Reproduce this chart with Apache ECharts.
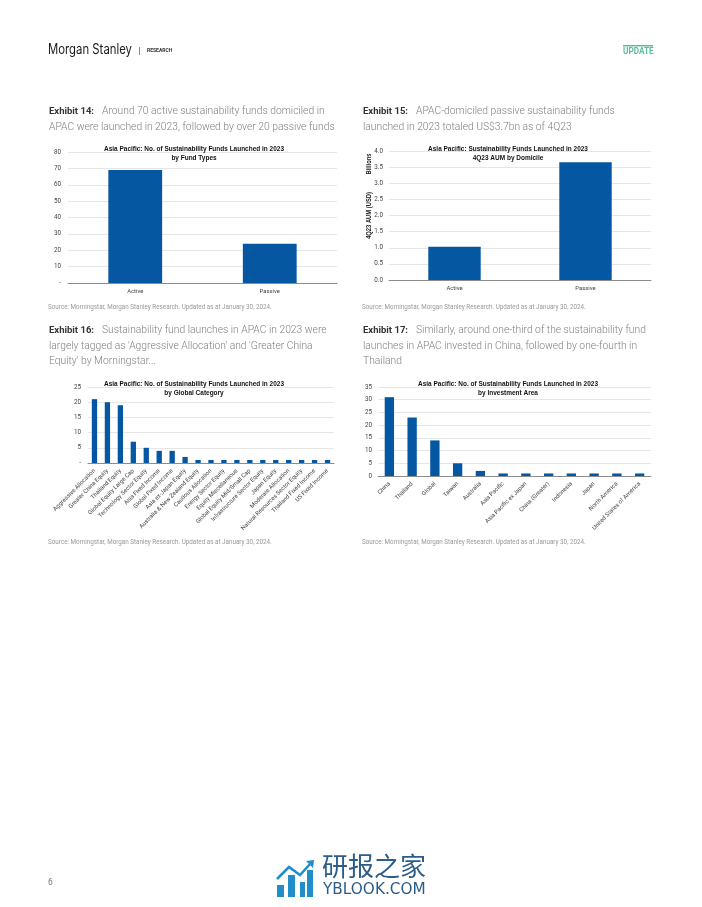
<!DOCTYPE html>
<html>
<head>
<meta charset="utf-8">
<style>html,body{margin:0;padding:0;background:#fff}#main{width:702px;height:907px}</style>
<script src="https://cdn.jsdelivr.net/npm/echarts@6/dist/echarts.min.js"></script>
</head>
<body>
<div id="main"></div>
<script>
var typeCats = ['Active', 'Passive'];
var typeVals = [69, 24];
var domicileCats = ['Active', 'Passive'];
var domicileVals = [1.03, 3.65];
var globalCats = ['Aggressive Allocation', 'Greater China Equity', 'Thailand Equity', 'Global Equity Large Cap', 'Technology Sector Equity', 'Asia Fixed Income', 'Global Fixed Income', 'Asia ex-Japan Equity', 'Australia & New Zealand Equity', 'Cautious Allocation', 'Energy Sector Equity', 'Equity Miscellaneous', 'Global Equity Mid/Small Cap', 'Infrastructure Sector Equity', 'Japan Equity', 'Moderate Allocation', 'Natural Resources Sector Equity', 'Thailand Fixed Income', 'US Fixed Income'];
var globalVals = [21, 20, 19, 7, 5, 4, 4, 2, 1, 1, 1, 1, 1, 1, 1, 1, 1, 1, 1];
var areaCats = ['China', 'Thailand', 'Global', 'Taiwan', 'Australia', 'Asia Pacific', 'Asia Pacific ex Japan', 'China (Greater)', 'Indonesia', 'Japan', 'North America', 'United States of America'];
var areaVals = [31, 23, 14, 5, 2, 1, 1, 1, 1, 1, 1, 1];

var blue = '#0457a0';
var sourceText = 'Source: Morningstar, Morgan Stanley Research. Updated as at January 30, 2024.';
var panels = [
    { cats: typeCats, vals: typeVals, max: 80, step: 10, dash: true, left: 68, right: 337, top: 152, bottom: 283, barWidth: '40%', rotate: 0, yMargin: 7, xMargin: 6,
      title: 'Asia Pacific: No. of Sustainability Funds Launched in 2023\nby Fund Types', titleX: 194, titleY: 144 },
    { cats: domicileCats, vals: domicileVals, max: 4, step: 0.5, dash: false, left: 389, right: 651, top: 151, bottom: 280, barWidth: '40%', rotate: 0, yMargin: 6, xMargin: 6,
      title: 'Asia Pacific: Sustainability Funds Launched in 2023\n4Q23 AUM by Domicile', titleX: 508, titleY: 144 },
    { cats: globalCats, vals: globalVals, max: 25, step: 5, dash: true, left: 88, right: 334, top: 387, bottom: 463, barWidth: '41%', rotate: 45, yMargin: 7, xMargin: 7,
      title: 'Asia Pacific: No. of Sustainability Funds Launched in 2023\nby Global Category', titleX: 194, titleY: 379 },
    { cats: areaCats, vals: areaVals, max: 35, step: 5, dash: false, left: 378, right: 651, top: 387, bottom: 476, barWidth: '41%', rotate: 45, yMargin: 6, xMargin: 7,
      title: 'Asia Pacific: No. of Sustainability Funds Launched in 2023\nby Investment Area', titleX: 508, titleY: 379 }
];

var grids = [], xAxes = [], yAxes = [], series = [], titles = [];
panels.forEach(function (p, i) {
    grids.push({ left: p.left, top: p.top, width: p.right - p.left, height: p.bottom - p.top });
    xAxes.push({
        type: 'category', gridIndex: i, data: p.cats,
        axisTick: { show: false },
        axisLine: { lineStyle: { color: '#8c8c8c', width: 1 } },
        axisLabel: { interval: 0, rotate: p.rotate, fontFamily: 'Roboto', fontSize: 5.9, color: '#444', margin: p.xMargin }
    });
    yAxes.push({
        type: 'value', gridIndex: i, min: 0, max: p.max, interval: p.step,
        axisLine: { show: false }, axisTick: { show: false },
        splitLine: { lineStyle: { color: '#e6e6e6', width: 1 } },
        axisLabel: {
            fontFamily: 'Roboto', fontSize: 6.3, color: '#444', margin: p.yMargin,
            formatter: function (v) {
                if (p.dash && v === 0) return '-';
                return p.step < 1 ? v.toFixed(1) : String(v);
            }
        }
    });
    series.push({
        type: 'bar', xAxisIndex: i, yAxisIndex: i, data: p.vals, barWidth: p.barWidth,
        itemStyle: { color: blue }, silent: true
    });
    titles.push({
        type: 'text', x: p.titleX, y: p.titleY, scaleX: 0.81, z: 20, silent: true,
        style: { text: p.title, align: 'center', fontFamily: 'Liberation Sans', fontWeight: 'bold', fontSize: 8, lineHeight: 9.5, fill: '#111' }
    });
});

function txt(x, y, text, size, color, weight, family) {
    return { type: 'text', x: x, y: y, silent: true, style: { text: text, fontSize: size, fill: color, fontWeight: weight || 'normal', fontFamily: family || 'Roboto' } };
}
function heading(x, y, label, lines) {
    var out = [txt(x, y, label, 9.5, '#333', 'bold')];
    lines.forEach(function (l, n) {
        out.push(txt(n === 0 ? x + 53 : x, y + n * 15.6, l, 10.3, '#808080', '300'));
    });
    return out;
}
function sideLabel(y, text) {
    return { type: 'text', x: 369, y: y, rotation: Math.PI / 2, scaleX: 0.88, silent: true, style: { text: text, fontSize: 6.6, fontWeight: 'bold', fontFamily: 'Liberation Sans', fill: '#222', align: 'center', verticalAlign: 'middle' } };
}
function box(x, y, w, h, fill) {
    return { type: 'rect', x: x, y: y, silent: true, shape: { width: w, height: h }, style: { fill: fill } };
}

var logoBlue = '#1f8ec9';
var graphics = [
    { type: 'text', x: 48, y: 43, scaleX: 0.81, silent: true, style: { text: 'Morgan Stanley', fontSize: 14, fill: '#1a1a1a', fontFamily: 'Inter' } },
    box(139, 47, 1, 8, '#888'),
    txt(147, 48.5, 'RESEARCH', 5, '#333', 'bold'),
    box(623, 45, 30, 1.5, '#5bbd9e'),
    txt(623, 47.5, 'UPDATE', 8.2, '#5bbd9e', 'bold'),
    txt(48, 304, sourceText, 6.3, '#999'),
    txt(362, 304, sourceText, 6.3, '#999'),
    txt(48, 539, sourceText, 6.3, '#999'),
    txt(362, 539, sourceText, 6.3, '#999'),
    txt(48, 878, '6', 8.5, '#777'),
    txt(322, 853, '研报之家', 26, '#2b5c8a', 'normal', 'Noto Sans CJK SC'),
    txt(323, 883, 'YBLOOK.COM', 15.3, '#2b5c8a', 'normal', 'DejaVu Sans'),
    box(277, 885, 7, 12, logoBlue),
    box(288, 875, 7, 22, logoBlue),
    box(300, 882, 5, 15, logoBlue),
    box(307, 870, 6, 27, logoBlue),
    { type: 'polyline', silent: true, shape: { points: [[277, 879], [289, 867], [300, 875], [310, 864]] }, style: { stroke: logoBlue, lineWidth: 2.5, fill: null } },
    { type: 'polygon', silent: true, shape: { points: [[306, 861], [314, 860], [313, 868]] }, style: { fill: logoBlue } },
    sideLabel(164, 'Billions'),
    sideLabel(215.5, '4Q23 AUM (USD)')
];
graphics = graphics.concat(titles)
    .concat(heading(49, 106.5, 'Exhibit 14:', ['Around 70 active sustainability funds domiciled in', 'APAC were launched in 2023, followed by over 20 passive funds']))
    .concat(heading(363, 106.5, 'Exhibit 15:', ['APAC-domiciled passive sustainability funds', 'launched in 2023 totaled US$3.7bn as of 4Q23']))
    .concat(heading(49, 325.5, 'Exhibit 16:', ['Sustainability fund launches in APAC in 2023 were', "largely tagged as 'Aggressive Allocation' and 'Greater China", "Equity' by Morningstar..."]))
    .concat(heading(363, 325.5, 'Exhibit 17:', ['Similarly, around one-third of the sustainability fund', 'launches in APAC invested in China, followed by one-fourth in', 'Thailand']));

var myChart = echarts.init(document.getElementById('main'), null, { renderer: 'canvas' });
myChart.setOption({
    animation: false,
    backgroundColor: '#fff',
    grid: grids,
    xAxis: xAxes,
    yAxis: yAxes,
    series: series,
    graphic: graphics
});
</script>
</body>
</html>
